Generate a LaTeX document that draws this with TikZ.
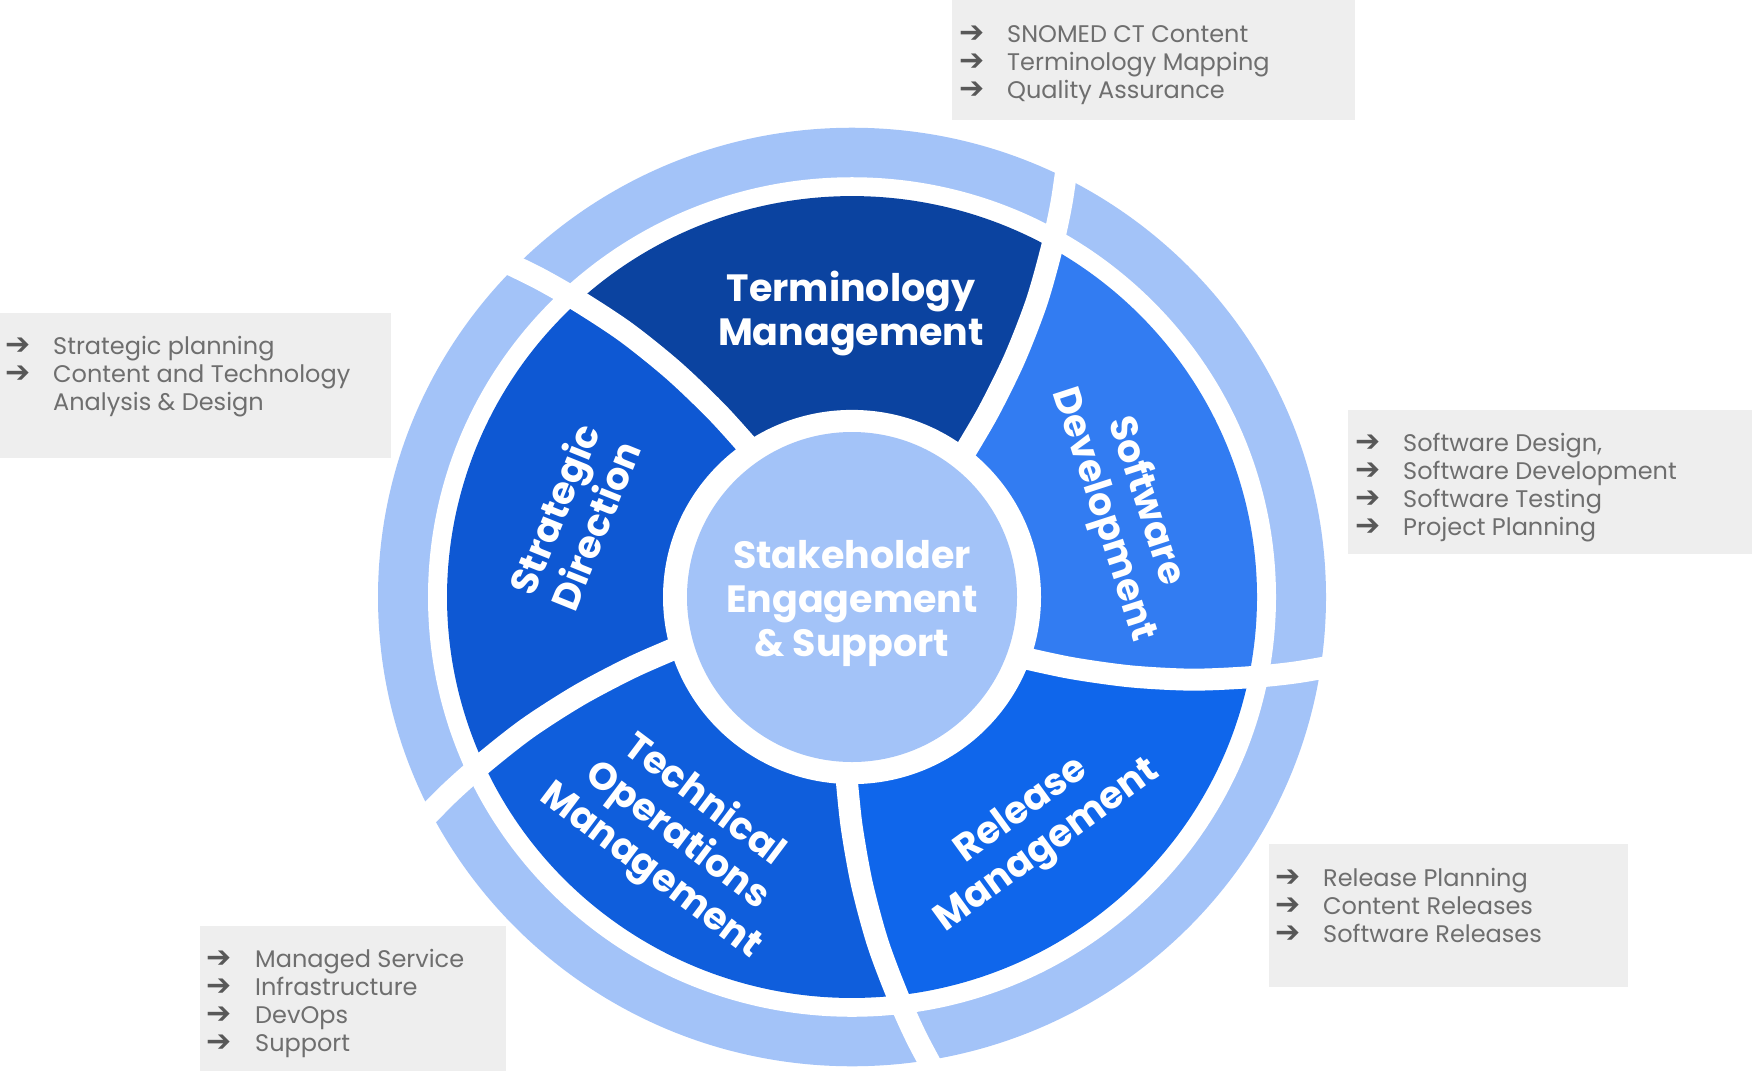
\documentclass[tikz,border=0pt]{standalone}
\usepackage{fontspec}
\setmainfont{Poppins}
\newfontfamily\arrowfont{DejaVu Sans}
\definecolor{ringblue}{HTML}{A3C3F8}
\definecolor{termblue}{HTML}{0B43A0}
\definecolor{stratblue}{HTML}{0E58D3}
\definecolor{softblue}{HTML}{327CF2}
\definecolor{relblue}{HTML}{0F66EB}
\definecolor{techblue}{HTML}{0F5EDC}
\definecolor{boxgray}{HTML}{EEEEEE}
\definecolor{listgray}{HTML}{6E6E6E}
\definecolor{arrowgray}{HTML}{585858}
\newcommand\segfill[2]{%
  \fill[#2] (0,0) -- ({#1-0.7}:170) -- ({#1+1.35}:230) -- ({#1+3.45}:290) -- ({#1+5.7}:350) -- ({#1+7.95}:405)
    arc[start angle={#1+7.95}, end angle={#1+79.95}, radius=405]
    -- ({#1+77.7}:350) -- ({#1+75.45}:290) -- ({#1+73.35}:230) -- ({#1+71.3}:170) -- cycle;}
\newcommand\gapcurve[1]{%
  \draw[gapline] plot[smooth] coordinates {({#1-0.5}:175) ({#1+1.35}:230) ({#1+3.45}:290) ({#1+5.7}:350) ({#1+7.95}:405) ({#1+9.75}:450) ({#1+11.6}:495)};}
\begin{document}
\begin{tikzpicture}[x=1pt,y=1pt,
  listbox/.style={fill=boxgray, draw=none, inner sep=0pt, anchor=north west},
  listitem/.style={anchor=base west, inner sep=0pt, font=\fontsize{24}{28}\selectfont, text=listgray},
  listarrow/.style={anchor=base west, inner sep=0pt, font=\arrowfont\fontsize{30}{28}\selectfont, text=arrowgray},
  seglabel/.style={align=center, text=white, font=\bfseries\fontsize{38}{44}\selectfont, inner sep=0pt},
  gapline/.style={white, line width=22pt, line cap=butt}
]
\useasboundingbox (0,0) rectangle (1752,-1071);

% list boxes
\node[listbox, minimum width=403, minimum height=120] (boxT) at (952,0) {};
\node[listbox, minimum width=391, minimum height=145] (boxL) at (0,-313) {};
\node[listbox, minimum width=404, minimum height=144] (boxR) at (1348,-410) {};
\node[listbox, minimum width=359, minimum height=143] (boxBR) at (1269,-843.5) {};
\node[listbox, minimum width=306, minimum height=145] (boxBL) at (200,-926) {};

% top box
\node[listarrow] (t1a) at (959,-42.5) {➔};
\node[listitem] (t1) at (1007,-42.5) {SNOMED CT Content};
\node[listarrow] (t2a) at (959,-70.5) {➔};
\node[listitem] (t2) at (1007,-70.5) {Terminology Mapping};
\node[listarrow] (t3a) at (959,-98.5) {➔};
\node[listitem] (t3) at (1007,-98.5) {Quality Assurance};

% left box
\node[listarrow] (l1a) at (5,-354) {➔};
\node[listitem] (l1) at (53,-354) {Strategic planning};
\node[listarrow] (l2a) at (5,-382) {➔};
\node[listitem] (l2) at (53,-382) {Content and Technology};
\node[listitem] (l3) at (53,-410) {Analysis \& Design};

% right box
\node[listarrow] (r1a) at (1355,-451.5) {➔};
\node[listitem] (r1) at (1403,-451.5) {Software Design,};
\node[listarrow] (r2a) at (1355,-479.5) {➔};
\node[listitem] (r2) at (1403,-479.5) {Software Development};
\node[listarrow] (r3a) at (1355,-507.5) {➔};
\node[listitem] (r3) at (1403,-507.5) {Software Testing};
\node[listarrow] (r4a) at (1355,-535.5) {➔};
\node[listitem] (r4) at (1403,-535.5) {Project Planning};

% bottom right box
\node[listarrow] (b1a) at (1275,-886) {➔};
\node[listitem] (b1) at (1323,-886) {Release Planning};
\node[listarrow] (b2a) at (1275,-914) {➔};
\node[listitem] (b2) at (1323,-914) {Content Releases};
\node[listarrow] (b3a) at (1275,-942) {➔};
\node[listitem] (b3) at (1323,-942) {Software Releases};

% bottom left box
\node[listarrow] (m1a) at (206,-967.5) {➔};
\node[listitem] (m1) at (255,-967.5) {Managed Service};
\node[listarrow] (m2a) at (206,-995.5) {➔};
\node[listitem] (m2) at (255,-995.5) {Infrastructure};
\node[listarrow] (m3a) at (206,-1023.5) {➔};
\node[listitem] (m3) at (255,-1023.5) {DevOps};
\node[listarrow] (m4a) at (206,-1051.5) {➔};
\node[listitem] (m4) at (255,-1051.5) {Support};

% wheel
\begin{scope}[shift={(852,-597)}, yscale=0.99]
  \fill[ringblue] (0,0) circle (474);
  \fill[white] (0,0) circle (424);
  \segfill{52.5}{termblue}
  \segfill{124.5}{stratblue}
  \segfill{196.5}{techblue}
  \segfill{268.5}{relblue}
  \segfill{-19.5}{softblue}
  \fill[white] (0,0) circle (189);
  \gapcurve{52.5}
  \gapcurve{124.5}
  \gapcurve{196.5}
  \gapcurve{268.5}
  \gapcurve{-19.5}
\end{scope}
\node[circle, fill=ringblue, minimum size=330, inner sep=0pt] (hub) at (852,-597) {};
\node[seglabel] (hubtext) at (852,-603) {Stakeholder\\Engagement\\\& Support};

\node[seglabel] (term) at (851,-313.5) {Terminology\\Management};
\node[seglabel, rotate=68] (strat) at (574,-517) {Strategic\\Direction};
\node[seglabel, rotate=-72] (soft) at (1124,-508) {Software\\Development};
\node[seglabel, rotate=36] (rel) at (1035,-829) {Release\\Management};
\node[seglabel, rotate=-37] (tech) at (677,-836) {Technical\\Operations\\Management};
\end{tikzpicture}
\end{document}
